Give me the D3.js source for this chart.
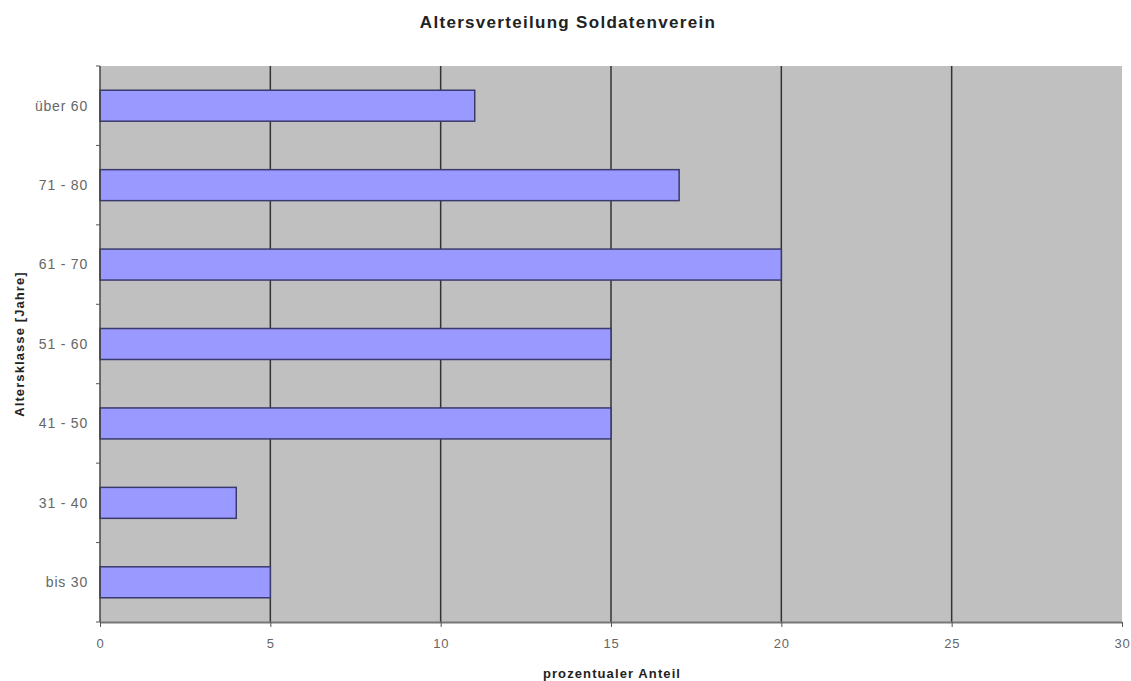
<!DOCTYPE html>
<html>
<head>
<meta charset="utf-8">
<script src="https://cdn.jsdelivr.net/npm/d3@7"></script>
<style>
	body { margin: 0; background: #fff; }
	svg { display: block; font-family: "Liberation Sans", Arial, sans-serif; }
</style>
</head>
<body>
<svg id="chart" width="1131" height="681"></svg>
<script>

const categories = ["über 60", "71 - 80", "61 - 70", "51 - 60", "41 - 50", "31 - 40", "bis 30"];
const shares = [11, 17, 20, 15, 15, 4, 5];
const x_ticks = [0, 5, 10, 15, 20, 25, 30];

const title = "Altersverteilung Soldatenverein";
const x_title = "prozentualer Anteil";
const y_title = "Altersklasse [Jahre]";

function drawChart() {
	const svg = d3.select("#chart");
	const plot = {left: 100, top: 66, right: 1122, bottom: 622};

	const x = d3.scaleLinear()
		.domain([0, 30])
		.range([plot.left, plot.right]);

	const y = d3.scaleBand()
		.domain(categories)
		.range([plot.top, plot.bottom])
		.paddingInner(0.61)
		.paddingOuter(0.305);

	// grey plot area
	svg.append("rect")
		.attr("x", plot.left)
		.attr("y", plot.top)
		.attr("width", plot.right - plot.left)
		.attr("height", plot.bottom - plot.top)
		.style("fill", "#c0c0c0");

	// vertical grid lines
	svg.append("g")
		.selectAll("line")
		.data(x_ticks.filter(d => d > 0 && d < 30))
		.enter()
		.append("line")
			.attr("x1", d => x(d))
			.attr("x2", d => x(d))
			.attr("y1", plot.top)
			.attr("y2", plot.bottom)
			.style("stroke", "#333")
			.style("stroke-width", "1.5px");

	// bars
	svg.append("g")
		.selectAll("rect")
		.data(categories)
		.enter()
		.append("rect")
			.attr("x", x(0))
			.attr("y", d => y(d))
			.attr("width", (d, i) => x(shares[i]) - x(0))
			.attr("height", y.bandwidth())
			.style("fill", "#9999ff")
			.style("stroke", "#3a3a6e")
			.style("stroke-width", "1.5px");

	// x axis
	const x_axis = d3.axisBottom(x)
		.tickValues(x_ticks)
		.tickSize(5)
		.tickSizeOuter(0)
		.tickPadding(12);

	const x_g = svg.append("g")
		.attr("transform", "translate(0," + plot.bottom + ")")
		.call(x_axis);
	x_g.select(".domain").style("stroke", "#777").style("stroke-width", "2px");
	x_g.selectAll(".tick line").style("stroke", "#555");
	x_g.selectAll("text")
		.style("font-size", "13px")
		.style("letter-spacing", "0.8px")
		.style("fill", "#666");

	// y axis: labels centred in band, ticks on band borders
	const y_g = svg.append("g")
		.attr("transform", "translate(" + plot.left + ",0)");

	y_g.append("line")
		.attr("x1", 0).attr("x2", 0)
		.attr("y1", plot.top).attr("y2", plot.bottom)
		.style("stroke", "#444")
		.style("stroke-width", "1.5px");

	const borders = d3.range(categories.length + 1)
		.map(i => plot.top + i * y.step());

	y_g.selectAll(".border-tick")
		.data(borders)
		.enter()
		.append("line")
			.attr("class", "border-tick")
			.attr("x1", -4).attr("x2", 0)
			.attr("y1", d => d).attr("y2", d => d)
			.style("stroke", "#555");

	y_g.selectAll(".cat-label")
		.data(categories)
		.enter()
		.append("text")
			.attr("class", "cat-label")
			.attr("x", -12)
			.attr("y", d => y(d) + y.bandwidth() / 2)
			.attr("dy", "0.35em")
			.attr("text-anchor", "end")
			.style("font-size", "14px")
			.style("letter-spacing", "0.8px")
			.style("fill", "#666")
			.text(d => d);

	// titles
	svg.append("text")
		.attr("x", 568)
		.attr("y", 28)
		.attr("text-anchor", "middle")
		.style("font-size", "17px")
		.style("font-weight", "bold")
		.style("letter-spacing", "1.3px")
		.style("fill", "#222")
		.text(title);

	svg.append("text")
		.attr("x", 612)
		.attr("y", 678)
		.attr("text-anchor", "middle")
		.style("font-size", "13px")
		.style("font-weight", "bold")
		.style("letter-spacing", "1.1px")
		.style("fill", "#222")
		.text(x_title);

	svg.append("text")
		.attr("transform", "translate(24," + ((plot.top + plot.bottom) / 2) + ") rotate(-90)")
		.attr("text-anchor", "middle")
		.style("font-size", "13px")
		.style("font-weight", "bold")
		.style("letter-spacing", "1.1px")
		.style("fill", "#222")
		.text(y_title);
}

drawChart();
</script>
</body>
</html>
